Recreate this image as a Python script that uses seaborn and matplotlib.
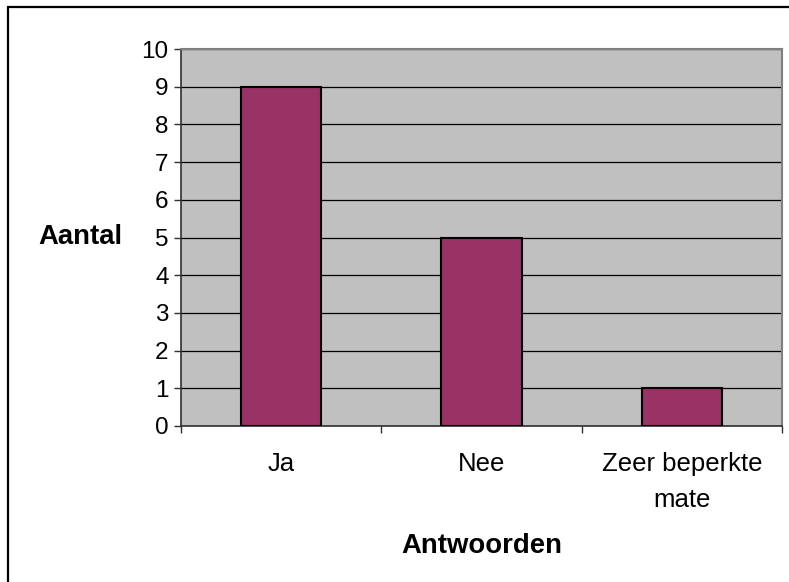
import matplotlib
matplotlib.use("Agg")
import matplotlib.pyplot as plt
import matplotlib.patches as mpatches
import seaborn as sns
import pandas as pd

categories = ["Ja", "Nee", "Zeer beperkte\nmate"]
values = [9, 5, 1]
y_ticks = [0, 1, 2, 3, 4, 5, 6, 7, 8, 9, 10]

sns.set_style("white")
plt.rcParams['font.family'] = ['Liberation Sans', 'DejaVu Sans']
plt.rcParams['text.color'] = 'black'
plt.rcParams['xtick.color'] = 'black'
plt.rcParams['ytick.color'] = 'black'
plt.rcParams['xtick.labelcolor'] = 'black'
plt.rcParams['ytick.labelcolor'] = 'black'

W, H = 789, 582
fig = plt.figure(figsize=(W / 100, H / 100), dpi=100)
ax = fig.add_axes([181 / W, 1 - 426 / H, (782 - 181) / W, (426 - 49) / H])

df = pd.DataFrame({"cat": categories, "val": values})
sns.barplot(data=df, x="cat", y="val", ax=ax, color="#993366", saturation=1,
            width=0.4, edgecolor="black", linewidth=1.5, zorder=3)

ax.set_facecolor("#C0C0C0")
ax.set_ylim(0, 10)
ax.set_xlim(-0.5, 2.5)
ax.set_yticks(y_ticks)
ax.yaxis.grid(True, color="black", linewidth=0.9, zorder=1)
ax.set_axisbelow(True)

ax.tick_params(axis="y", which="major", length=5, width=1, color="#303030",
               direction="out", pad=4, labelsize=17.5, left=True)
ax.set_xticks([0, 1, 2])
ax.set_xticklabels(categories, fontsize=18.5, linespacing=1.62, va="top")
ax.set_xticks([-0.5, 0.5, 1.5, 2.5], minor=True)
ax.tick_params(axis="x", which="major", length=0, pad=19)
ax.tick_params(axis="x", which="minor", length=5, width=1, color="#303030",
               direction="out", bottom=True)

for s in ["top", "right"]:
    ax.spines[s].set_visible(True)
    ax.spines[s].set_color("#808080")
    ax.spines[s].set_linewidth(1.5)
for s in ["left", "bottom"]:
    ax.spines[s].set_color("#303030")
    ax.spines[s].set_linewidth(1.2)

ax.set_xlabel("")
ax.set_ylabel("")
fig.text(80 / W, 1 - 237 / H, "Aantal", fontsize=19.8, fontweight="bold",
         ha="center", va="center", color="black")
fig.text(482 / W, 1 - 546 / H, "Antwoorden", fontsize=19.8, fontweight="bold",
         ha="center", va="center", color="black")

frame = mpatches.Rectangle((8 / W, -0.05), 1.1, 1 - 7 / H + 0.05,
                           transform=fig.transFigure, fill=False,
                           edgecolor="black", linewidth=1.6, clip_on=False)
fig.patches.append(frame)

fig.savefig("out.png", dpi=100, facecolor="white")
